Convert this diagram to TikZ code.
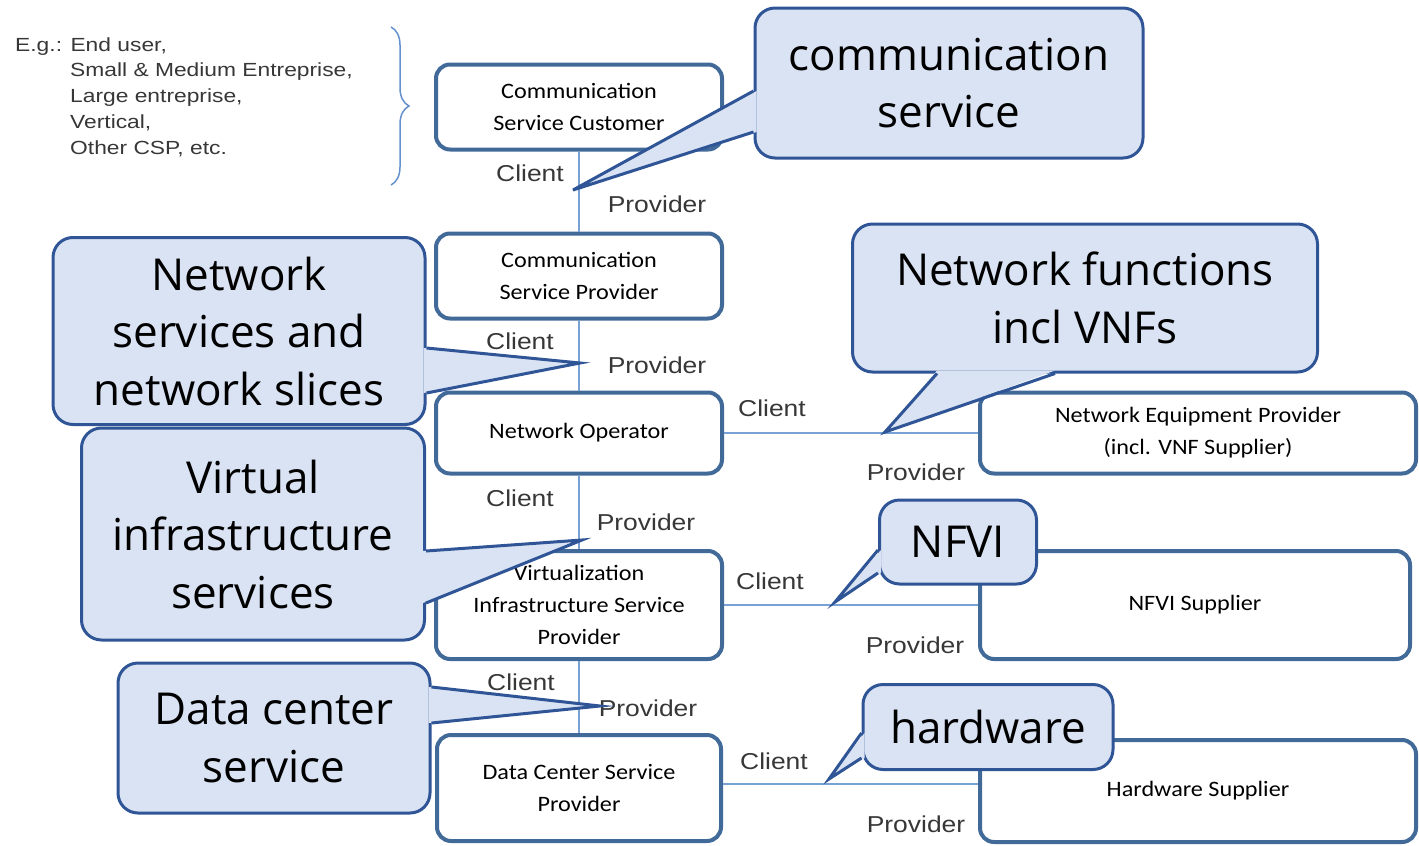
\documentclass[tikz,border=0pt]{standalone}
\usepackage{fontspec}
\setmainfont{Open Sans}
\newfontfamily\boxfont[FakeStretch=1.1]{Carlito}
\newfontfamily\rolefont[FakeStretch=1.15]{Liberation Sans}
\newfontfamily\notefont[FakeStretch=1.2]{Liberation Sans}
\usepackage{tikz}
\usetikzlibrary{calc,decorations.pathreplacing}

\definecolor{boxblue}{RGB}{66,106,153}
\definecolor{wireblue}{RGB}{120,162,212}
\definecolor{bracketblue}{RGB}{100,145,205}
\definecolor{bubblefill}{RGB}{218,227,243}
\definecolor{bubbleblue}{RGB}{47,85,151}
\definecolor{textgray}{RGB}{55,55,55}

\tikzset{
  party/.style={draw=boxblue, line width=4pt, fill=white, rounded corners=14pt,
    inner sep=0pt, align=center, font=\boxfont\fontsize{22}{32}\selectfont},
  wire/.style={draw=wireblue, line width=2pt},
  role/.style={inner sep=0pt, text=textgray, font=\rolefont\fontsize{23}{26}\selectfont},
  note/.style={inner sep=0pt, align=left, text=textgray, font=\notefont\fontsize{19}{25.75}\selectfont},
  bubble/.style={draw=bubbleblue, line width=3pt, fill=bubblefill, rounded corners=20pt,
    inner sep=0pt, align=center, font=\fontsize{44}{57.5}\selectfont},
  bubbletip/.style={draw=bubbleblue, line width=3pt},
}

%pointer of a callout: base a, base b, tip, shift into the body
\newcommand{\bubblepointer}[4]{
  \fill[bubblefill] ($(#1)+(#4)$) -- (#3) -- ($(#2)+(#4)$) -- cycle;
  \draw[bubbletip] (#1) -- (#3) -- (#2);
}

\begin{document}
\begin{tikzpicture}[x=1pt,y=-1pt]

      \useasboundingbox (0,0) rectangle (1419,846);

      %Customer examples
      \node[note, anchor=west] (eg) at (15,97)
            {E.g.: End user,\\
             \hspace*{55pt}Small \& Medium Entreprise,\\
             \hspace*{55pt}Large entreprise,\\
             \hspace*{55pt}Vertical,\\
             \hspace*{55pt}Other CSP, etc.};
      \draw[bracketblue, line width=1.5pt, decorate,
            decoration={brace, amplitude=18pt}] (391,27) -- (391,185);

      %Main chain
      \node[party, minimum width=286pt, minimum height=85pt] (csc) at (579,107)
            {Communication\\Service Customer};
      \node[party, minimum width=286pt, minimum height=85pt] (csp) at (579,276)
            {Communication\\Service Provider};
      \node[party, minimum width=286pt, minimum height=81pt] (netop) at (579,433)
            {Network Operator};
      \node[party, minimum width=286pt, minimum height=108pt] (visp) at (579,605)
            {Virtualization\\Infrastructure Service\\Provider};
      \node[party, minimum width=284pt, minimum height=106pt] (dcsp) at (579,788)
            {Data Center Service\\Provider};

      %Suppliers
      \node[party, minimum width=436pt, minimum height=81pt] (nep) at (1198,433)
            {Network Equipment Provider\\(incl. VNF Supplier)};
      \node[party, minimum width=430pt, minimum height=108pt] (nfvis) at (1195,605)
            {NFVI Supplier};
      \node[party, minimum width=436pt, minimum height=102pt] (hws) at (1198,791)
            {Hardware Supplier};

      %Client / provider links
      \draw[wire] (csc) -- (csp);
      \draw[wire] (csp) -- (netop);
      \draw[wire] (netop) -- (visp);
      \draw[wire] (visp) -- (dcsp);
      \draw[wire] (netop) -- (nep);
      \draw[wire] (visp) -- (nfvis);
      \draw[wire] (dcsp.east |- 0,784) -- (hws.west |- 0,784);

      \foreach \nm/\xx/\yy/\txt in {cl1/530/173/Client, pr1/657/204/Provider,
                                    cl2/520/341/Client, pr2/657/365/Provider,
                                    cl3/520/498/Client, pr3/646/522/Provider,
                                    cl4/521/682/Client, pr4/648/708/Provider,
                                    cl5/772/408/Client, pr5/916/472/Provider,
                                    cl6/770/581/Client, pr6/915/645/Provider,
                                    cl7/774/761/Client, pr7/916/824/Provider} {
        \node[role] (\nm) at (\xx,\yy) {\txt};
      }

      %Callouts
      \node[bubble, minimum width=388pt, minimum height=150pt] (csbub) at (949,83)
            {communication\\service};
      \coordinate (cstip) at (573,190);
      \coordinate (csa) at (csbub.west |- 0,91);
      \coordinate (csb) at (csbub.west |- 0,132);
      \bubblepointer{csa}{csb}{cstip}{3,0}

      \node[bubble, minimum width=372pt, minimum height=187pt] (nsbub) at (239,331)
            {Network\\services and\\network slices};
      \coordinate (nstip) at (580,363);
      \coordinate (nsa) at (nsbub.east |- 0,348);
      \coordinate (nsb) at (nsbub.east |- 0,393);
      \bubblepointer{nsa}{nsb}{nstip}{-3,0}

      \node[bubble, minimum width=465pt, minimum height=148pt] (nfbub) at (1085,298)
            {Network functions\\incl VNFs};
      \coordinate (nftip) at (885,432);
      \coordinate (nfa) at (937,0 |- nfbub.south);
      \coordinate (nfb) at (1055,0 |- nfbub.south);
      \bubblepointer{nfa}{nfb}{nftip}{0,-3}

      \node[bubble, minimum width=343pt, minimum height=212pt] (vibub) at (253,534)
            {Virtual\\infrastructure\\services};
      \coordinate (vitip) at (582,540);
      \coordinate (via) at (vibub.east |- 0,551);
      \coordinate (vib) at (vibub.east |- 0,603);
      \bubblepointer{via}{vib}{vitip}{-3,0}

      \node[bubble, minimum width=157pt, minimum height=84pt] (nfvibub) at (958,542)
            {NFVI};
      \coordinate (nfvitip) at (835,602);
      \coordinate (nfvia) at (nfvibub.west |- 0,550);
      \coordinate (nfvib) at (nfvibub.west |- 0,573);
      \bubblepointer{nfvia}{nfvib}{nfvitip}{3,0}

      \node[bubble, minimum width=312pt, minimum height=150pt] (dcbub) at (274,738)
            {Data center\\service};
      \coordinate (dctip) at (600,706);
      \coordinate (dca) at (dcbub.east |- 0,687);
      \coordinate (dcb) at (dcbub.east |- 0,723);
      \bubblepointer{dca}{dcb}{dctip}{-3,0}

      \node[bubble, minimum width=250pt, minimum height=85pt] (hwbub) at (988,727)
            {hardware};
      \coordinate (hwtip) at (829,779);
      \coordinate (hwa) at (hwbub.west |- 0,733);
      \coordinate (hwb) at (hwbub.west |- 0,758);
      \bubblepointer{hwa}{hwb}{hwtip}{3,0}

\end{tikzpicture}
\end{document}
